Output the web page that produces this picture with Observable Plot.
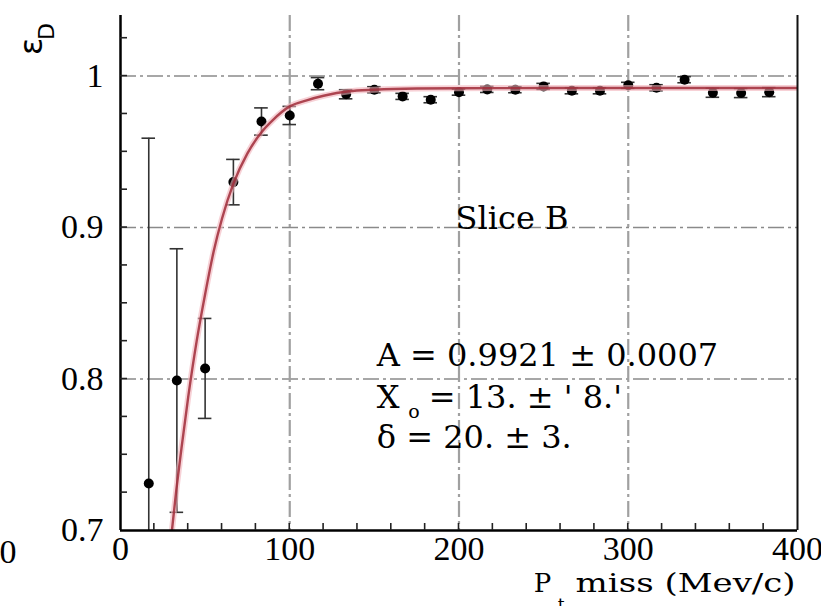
<!DOCTYPE html>
<html><head><meta charset="utf-8">
<script src="https://cdn.jsdelivr.net/npm/d3@7"></script>
<script src="https://cdn.jsdelivr.net/npm/@observablehq/plot@0.6"></script>
<style>body{margin:0;background:#fff} #chart svg{display:block}</style>
</head><body><div id="chart"></div>
<script>
// Measured points (P_t miss bins, efficiency, error)
const pMiss = [16.7, 33.3, 50, 66.7, 83.3, 100, 116.7, 133.3, 150, 166.7, 183.3, 200, 216.7, 233.3, 250, 266.7, 283.3, 300, 316.7, 333.3, 350, 366.7, 383.3];
const eff = [0.731, 0.799, 0.807, 0.930, 0.970, 0.974, 0.995, 0.988, 0.991, 0.9866, 0.9844, 0.9894, 0.9912, 0.991, 0.9932, 0.9903, 0.9903, 0.9939, 0.9923, 0.9976, 0.989, 0.9888, 0.9894];
const effErr = [0.228, 0.087, 0.033, 0.015, 0.009, 0.006, 0.004, 0.003, 0.002, 0.002, 0.002, 0.002, 0.002, 0.002, 0.002, 0.002, 0.002, 0.002, 0.002, 0.002, 0.003, 0.003, 0.003];
// Fit curve
const fitX = [30, 33, 36, 40, 45, 50, 55, 60, 66.7, 75, 83.3, 90, 100, 110, 120, 135, 150, 175, 200, 250, 300, 350, 400];
const fitY = [0.696, 0.727, 0.754, 0.788, 0.825, 0.856, 0.884, 0.906, 0.929, 0.949, 0.963, 0.971, 0.980, 0.984, 0.987, 0.990, 0.991, 0.9918, 0.992, 0.9921, 0.9921, 0.9921, 0.9921];
// Ticks and grid
const xMajorTicks = [0, 100, 200, 300, 400];
const xMinorTicks = [20, 40, 60, 80, 100, 120, 140, 160, 180, 200, 220, 240, 260, 280, 300, 320, 340, 360, 380];
const yMajorTicks = [0.7, 0.8, 0.9, 1.0];
const yMinorTicks = [0.725, 0.75, 0.775, 0.8, 0.825, 0.85, 0.875, 0.9, 0.925, 0.95, 0.975, 1.0, 1.025];
const xGrid = [100, 200, 300];
const yGrid = [0.8, 0.9, 1.0];
// Annotation texts
const fitLines = ["A = 0.9921 ± 0.0007", "= 13. ± ' 8.'", "δ = 20. ± 3."];

const points = pMiss.map((x, i) => ({x, y: eff[i], e: effErr[i]}));
const fit = fitX.map((x, i) => ({x, y: fitY[i]}));

const serif = "'DejaVu Serif', serif";
const tickFont = "'Liberation Serif', 'Times New Roman', Times, serif";

const innerTicks = (index, {x, y}) => {
  const g = d3.create("svg:g").attr("stroke", "#222").attr("stroke-width", 1.6);
  for (const v of xMinorTicks) g.append("line").attr("x1", x(v)).attr("x2", x(v)).attr("y1", y(0.7)).attr("y2", y(0.7) - 7);
  for (const v of yMinorTicks) g.append("line").attr("x1", x(0)).attr("x2", x(0) + 7).attr("y1", y(v)).attr("y2", y(v));
  return g.node();
};

const chart = Plot.plot({
  width: 821,
  height: 606,
  marginTop: 15,
  marginRight: 24,
  marginBottom: 76,
  marginLeft: 120,
  style: {fontFamily: tickFont, fontSize: "33px", background: "#fff", color: "#000"},
  x: {domain: [0, 400]},
  y: {domain: [0.7, 1.04]},
  marks: [
    Plot.ruleY(yGrid, {stroke: "#8a8a8a", strokeWidth: 1.5, strokeDasharray: "16,4,3,4"}),
    Plot.ruleX(xGrid, {stroke: "#a0a0a0", strokeWidth: 2.2, strokeDasharray: "16,4,3,4"}),
    Plot.ruleX(points, {x: "x", y1: d => d.y - d.e, y2: d => d.y + d.e, stroke: "#333", strokeWidth: 1.6, clip: true}),
    Plot.ruleY(points, {y: d => d.y + d.e, x1: d => d.x - 4, x2: d => d.x + 4, stroke: "#333", strokeWidth: 1.6, clip: true}),
    Plot.ruleY(points, {y: d => d.y - d.e, x1: d => d.x - 4, x2: d => d.x + 4, stroke: "#333", strokeWidth: 1.6, clip: true}),
    Plot.dot(points, {x: "x", y: "y", r: 5, fill: "#000"}),
    Plot.line(fit, {x: "x", y: "y", stroke: "#f2b3bb", strokeWidth: 6, strokeOpacity: 0.6, curve: "monotone-x", clip: true}),
    Plot.line(fit, {x: "x", y: "y", stroke: "#a02c38", strokeWidth: 2.4, strokeOpacity: 0.85, curve: "monotone-x", clip: true}),
    Plot.ruleX([0], {stroke: "#000", strokeWidth: 2.5}),
    Plot.ruleX([400], {stroke: "#111", strokeWidth: 2}),
    Plot.ruleY([0.7], {stroke: "#000", strokeWidth: 2.5}),
    innerTicks,
    Plot.axisX({ticks: xMajorTicks, tickSize: 0, tickPadding: 5, label: null, fontFamily: tickFont, fontSize: 34}),
    Plot.axisY({ticks: yMajorTicks, tickSize: 0, tickPadding: 17, tickFormat: d => d === 1 ? "1" : d.toFixed(1), label: null, fontFamily: tickFont, fontSize: 34}),
    // stray label at far left
    Plot.text(["0"], {x: -66.4, y: 0.6944, text: d => d, lineAnchor: "top", fontFamily: tickFont, fontSize: 34}),
    // annotations
    Plot.text(["Slice B"], {x: 198, y: 0.9142, text: d => d, textAnchor: "start", lineAnchor: "top", fontFamily: serif, fontSize: 32}),
    Plot.text([fitLines[0]], {x: 151.4, y: 0.8233, text: d => d, textAnchor: "start", lineAnchor: "top", fontFamily: serif, fontSize: 32}),
    Plot.text(["X"], {x: 151.4, y: 0.7960, text: d => d, textAnchor: "start", lineAnchor: "top", fontFamily: serif, fontSize: 32}),
    Plot.text(["o"], {x: 170, y: 0.7830, text: d => d, textAnchor: "start", lineAnchor: "top", fontFamily: serif, fontSize: 19}),
    Plot.text([fitLines[1]], {x: 182.1, y: 0.7960, text: d => d, textAnchor: "start", lineAnchor: "top", fontFamily: serif, fontSize: 32}),
    Plot.text([fitLines[2]], {x: 151.4, y: 0.7696, text: d => d, textAnchor: "start", lineAnchor: "top", fontFamily: serif, fontSize: 32}),
    // x axis title
    Plot.text(["P"], {x: 244.1, y: 0.6715, text: d => d, textAnchor: "start", lineAnchor: "top", fontFamily: serif, fontSize: 26}),
    Plot.text(["t"], {x: 258.3, y: 0.6555, text: d => d, textAnchor: "start", lineAnchor: "top", fontFamily: serif, fontSize: 17}),
    Plot.text(["miss (Mev/c)"], {x: 268.9, y: 0.6715, text: d => d, textAnchor: "start", lineAnchor: "top", fontFamily: serif, fontSize: 26}),
    // y axis title (rotated)
    Plot.text(["ε"], {x: -52.2, y: 1.0139, text: d => d, rotate: -90, textAnchor: "start", lineAnchor: "middle", fontFamily: "DejaVu Sans", fontSize: 32}),
    Plot.text(["D"], {x: -43.4, y: 1.0238, text: d => d, rotate: -90, textAnchor: "start", lineAnchor: "middle", fontFamily: "DejaVu Sans", fontSize: 22})
  ]
});

// stretch the x title to the reference width
d3.select(chart).selectAll("text").each(function() {
  if (this.textContent === "miss (Mev/c)") {
    this.setAttribute("textLength", 220);
    this.setAttribute("lengthAdjust", "spacingAndGlyphs");
  }
});

document.getElementById("chart").appendChild(chart);
</script>
</body></html>
